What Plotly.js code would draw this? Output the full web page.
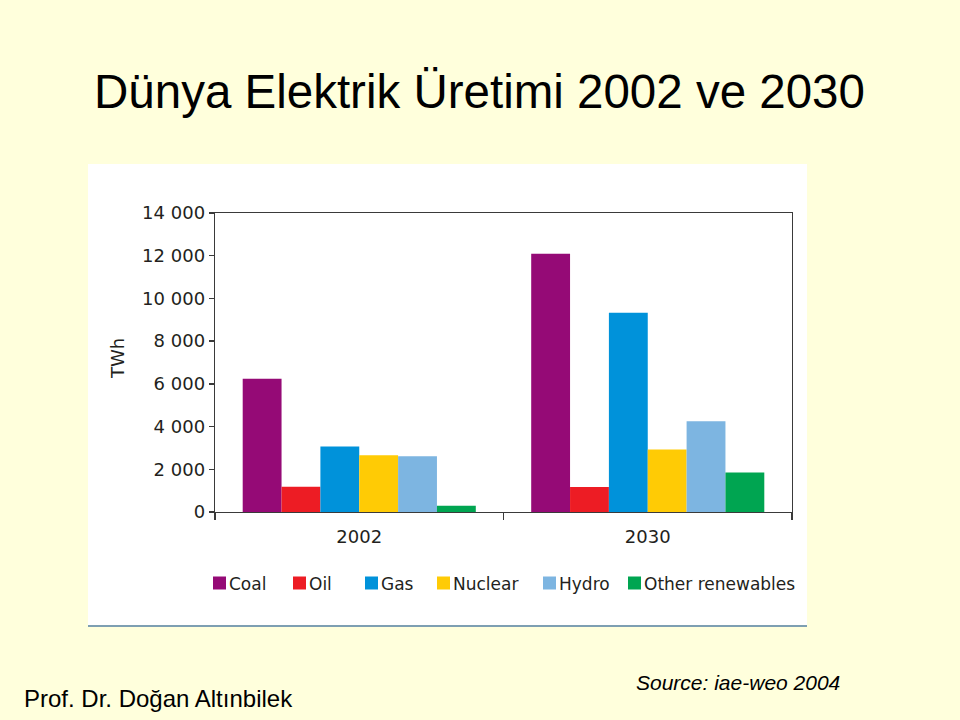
<!DOCTYPE html>
<html>
<head>
<meta charset="utf-8">
<script src="https://cdn.plot.ly/plotly-3.0.1.min.js"></script>
<style>
  html, body { margin: 0; padding: 0; background: #FFFFDC; }
  #chart { width: 960px; height: 720px; }
</style>
</head>
<body>
<div id="chart"></div>
<script>
// ---- data ----
const years = ["2002", "2030"];
const sources = ["Coal", "Oil", "Gas", "Nuclear", "Hydro", "Other renewables"];
const coal = [6241, 12091];
const oil = [1181, 1170];
const gas = [3070, 9329];
const nuclear = [2654, 2929];
const hydro = [2610, 4248];
const otherRenewables = [288, 1845];
const yTicks = [0, 2000, 4000, 6000, 8000, 10000, 12000, 14000];
const titleText = "Dünya Elektrik Üretimi 2002 ve 2030";
const authorText = "Prof. Dr. Doğan Altınbilek";
const sourceText = "Source: iae-weo 2004";
const unitText = "TWh";

// ---- style ----
const colors = ["#950A76", "#ED1C24", "#0092DA", "#FFCB05", "#7DB5E1", "#00A551"];
const seriesValues = [coal, oil, gas, nuclear, hydro, otherRenewables];
// legend key positions (pixels, left edge of each key square)
const legendKeyX = [213, 293, 365, 437, 543, 628];
const legendY = 583;

// plot area in pixels
const L = 215, R = 792, T = 213, B = 512, W = 960, H = 720;
const px = x => (x - L) / (R - L);
const py = y => (B - y) / (B - T);

const traces = sources.map((name, i) => ({
  type: "bar",
  name: name,
  x: years,
  y: seriesValues[i],
  marker: { color: colors[i], line: { width: 0 } },
  hoverinfo: "skip",
  showlegend: false
}));

const gothic = "'DejaVu Sans', Verdana, sans-serif";
const arial = "'Liberation Sans', Arial, sans-serif";

const shapes = [
  { type: "rect", xref: "paper", yref: "paper", layer: "below",
    x0: px(88), x1: px(807), y0: py(626), y1: py(164),
    fillcolor: "#FFFFFF", line: { width: 0 } },
  { type: "line", xref: "paper", yref: "paper", layer: "below",
    x0: px(88), x1: px(807), y0: py(626), y1: py(626),
    line: { color: "#7E9FB2", width: 2 } }
];
const annotations = [
  { text: unitText, xref: "paper", yref: "paper",
    x: px(117), y: py(359), xanchor: "center", yanchor: "middle",
    textangle: -90, showarrow: false,
    font: { family: gothic, size: 18, color: "#231F20" } },
  { text: authorText, xref: "paper", yref: "paper",
    x: px(22), y: py(698), xanchor: "left", yanchor: "middle",
    showarrow: false,
    font: { family: arial, size: 24, color: "#000000" } },
  { text: "<i>" + sourceText + "</i>", xref: "paper", yref: "paper",
    x: px(634), y: py(682), xanchor: "left", yanchor: "middle",
    showarrow: false,
    font: { family: arial, size: 21, color: "#000000" } }
];

// legend keys and labels
sources.forEach((name, i) => {
  const x0 = legendKeyX[i];
  shapes.push({ type: "rect", xref: "paper", yref: "paper",
    x0: px(x0), x1: px(x0 + 13), y0: py(legendY + 6.5), y1: py(legendY - 6.5),
    fillcolor: colors[i], line: { width: 0 } });
  annotations.push({ text: name, xref: "paper", yref: "paper",
    x: px(x0 + 15), y: py(legendY + 1), xanchor: "left", yanchor: "middle",
    showarrow: false, borderpad: 0,
    font: { family: gothic, size: 17, color: "#231F20" } });
});

const layout = {
  width: W, height: H,
  paper_bgcolor: "#FFFFDC",
  plot_bgcolor: "#FFFFFF",
  margin: { l: L, r: W - R, t: T, b: H - B, pad: 0 },
  separators: ". ",
  barmode: "group",
  bargap: 0.192,
  bargroupgap: 0,
  showlegend: false,
  xaxis: {
    type: "category",
    showline: true, linecolor: "#3A3A3A", linewidth: 1.3,
    mirror: true,
    ticks: "outside", ticklen: 7, tickwidth: 1.3, tickcolor: "#3A3A3A",
    tickson: "boundaries",
    ticklabelstandoff: 8,
    showgrid: false, zeroline: false,
    tickfont: { family: gothic, size: 18, color: "#231F20" },
    fixedrange: true
  },
  yaxis: {
    range: [0, 14000],
    tickvals: yTicks,
    tickformat: ",d",
    showline: true, linecolor: "#3A3A3A", linewidth: 1.3,
    mirror: true,
    ticks: "outside", ticklen: 5, tickwidth: 1.3, tickcolor: "#3A3A3A",
    showgrid: false, zeroline: false,
    tickfont: { family: gothic, size: 18, color: "#231F20" },
    fixedrange: true
  },
  title: {
    text: titleText,
    font: { family: arial, size: 47.5, color: "#000000" },
    xref: "container", x: 94 / W, xanchor: "left",
    yref: "container", y: 1 - 91 / H, yanchor: "middle"
  },
  shapes: shapes,
  annotations: annotations
};

Plotly.newPlot("chart", traces, layout, { staticPlot: true, displayModeBar: false });
</script>
</body>
</html>
